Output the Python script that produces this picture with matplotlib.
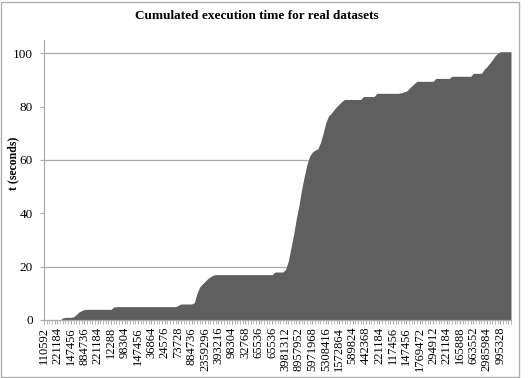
import numpy as np
import matplotlib.pyplot as plt
from matplotlib.patches import Rectangle

plt.rcParams['font.family'] = ['Liberation Serif', 'DejaVu Serif']

# tick labels shown on the category axis (every 5th dataset)
labels = ['110592', '221184', '147456', '884736', '221184', '12288', '98304',
          '147456', '36864', '24576', '73728', '884736', '2359296', '393216',
          '98304', '32768', '65536', '65536', '3981312', '8957952', '5971968',
          '5308416', '1572864', '589824', '442368', '221184', '117456',
          '147456', '1769472', '294912', '221184', '165888', '663552',
          '2985984', '995328']

# cumulated time (seconds), one value per dataset
t_cum = [0, 0, 0, 0, 0, 0, 0, 0.8, 1, 1,
         1, 1.2, 2, 3, 3.5, 3.9, 4, 4, 4, 4,
         4, 4, 4, 4, 4, 4, 4.9, 5, 5, 5,
         5, 5, 5, 5, 5, 5, 5, 5, 5, 5,
         5, 5, 5, 5, 5, 5, 5, 5, 5, 5,
         5.5, 6, 6, 6, 6, 6, 6.5, 10, 12.4, 13.5,
         14.5, 15.5, 16.2, 16.8, 17, 17, 17, 17, 17, 17,
         17, 17, 17, 17, 17, 17, 17, 17, 17, 17,
         17, 17, 17, 17, 17, 17, 18, 18, 18, 18,
         19, 22, 27, 32, 38, 43, 49, 54, 58.5, 61.5,
         63, 63.7, 64.2, 66.5, 70, 74, 76.5, 77.5, 78.8, 80,
         81, 82, 82.7, 82.7, 82.7, 82.7, 82.7, 82.7, 82.7, 83.8,
         83.8, 83.8, 83.8, 83.8, 85, 85, 85, 85, 85, 85,
         85, 85, 85, 85.2, 85.5, 85.8, 86.8, 87.8, 88.7, 89.5,
         89.5, 89.5, 89.5, 89.5, 89.5, 89.5, 90.6, 90.6, 90.6, 90.6,
         90.6, 90.6, 91.4, 91.4, 91.4, 91.4, 91.4, 91.4, 91.4, 91.4,
         92.5, 92.5, 92.5, 92.5, 94, 95, 96.2, 97.5, 99, 100,
         100.6, 100.6, 100.6, 100.6, 100.6]

W, H = 529, 378
fig = plt.figure(figsize=(W / 100, H / 100), dpi=100)
ax = fig.add_axes([44 / W, 1 - 320 / H, (511 - 44) / W, (320 - 40) / H])

x = np.arange(len(t_cum))
ax.fill_between(x, t_cum, color='#5f5f5f', linewidth=0, zorder=2)

ax.set_xlim(0, len(t_cum) - 1)
ax.set_ylim(0, 105)

# grid lines
for g in [20, 60, 100]:
    ax.axhline(g, color='#ababab', lw=0.9, zorder=1)

ax.set_yticks([0, 20, 40, 60, 80, 100])
ax.set_xticks(x[::5])
ax.set_xticklabels(labels, rotation=90, fontsize=9)
ax.set_xticks(x, minor=True)
ax.tick_params(axis='x', which='both', length=3, color='#ababab', pad=2)
ax.tick_params(axis='y', length=3, color='#ababab', labelsize=9.5, pad=5)

for s in ['top', 'right']:
    ax.spines[s].set_visible(False)
for s in ['left', 'bottom']:
    ax.spines[s].set_color('#ababab')
    ax.spines[s].set_linewidth(0.9)

fig.text(0.486, 1 - 16 / H, 'Cumulated execution time for real datasets',
         ha='center', va='center', fontsize=9.5, fontweight='bold')
fig.text(13 / W, 1 - 163 / H, 't (seconds)', rotation=90,
         ha='center', va='center', fontsize=8.5, fontweight='bold')

# chart area border
fig.patches.append(Rectangle((1 / W, 1 / H), 518 / W, 375 / H, transform=fig.transFigure,
                             fill=False, edgecolor='#b0b0b0', lw=1))

fig.savefig('out.png', dpi=100)
